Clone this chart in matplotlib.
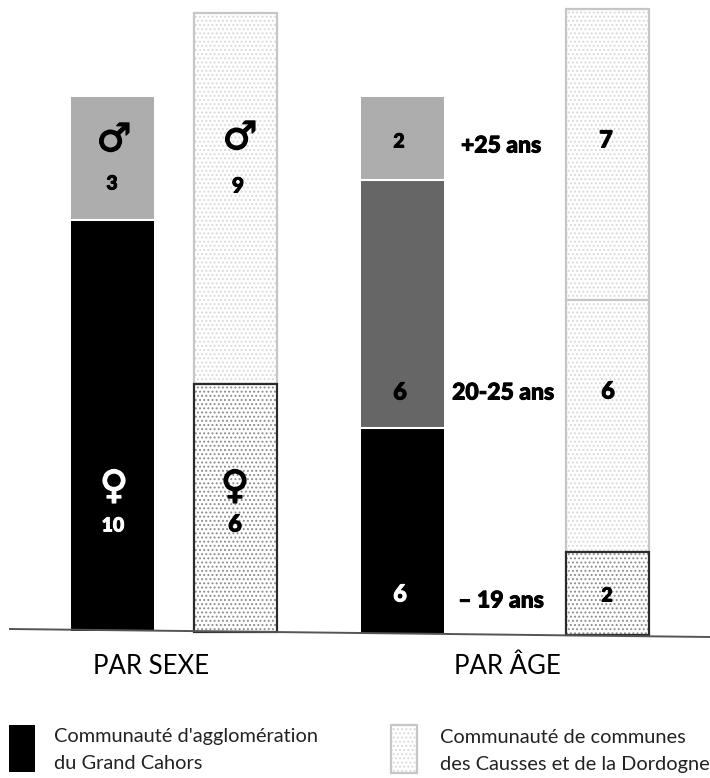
import matplotlib
matplotlib.use("Agg")
import matplotlib.pyplot as plt
import matplotlib.patheffects as pe
from matplotlib.patches import Rectangle

# heights as drawn, in persons (scale)
sexe_cahors = [9.95, 2.97]
sexe_causses = [6, 9]
age_cahors = [5, 6, 2]      # lowest block is drawn 5 units tall but labelled 6
age_causses = [2, 6.1, 7.05]
lab_sexe_cahors = ["10", "3"]
lab_sexe_causses = ["6", "9"]
lab_age_cahors = ["6", "6", "2"]
lab_age_causses = ["2", "6", "7"]
age_labels = ["– 19 ans", "20-25 ans", "+25 ans"]
groups = ["PAR SEXE", "PAR ÂGE"]
legend_labels = ["Communauté d'agglomération\ndu Grand Cahors",
                 "Communauté de communes\ndes Causses et de la Dordogne"]

BLACK, DARK, MID = "#000000", "#666666", "#adadad"
U = 41.3

fig = plt.figure(figsize=(7.10, 7.78), dpi=100)
ax = fig.add_axes([0, 0, 1, 1])
ax.set_xlim(0, 710)
ax.set_ylim(778, 0)
ax.axis("off")
plt.rcParams["hatch.linewidth"] = 0.9
F = ["Lato", "DejaVu Sans"]

def hatched(x, y, w, h, dark):
    hc = "#8c8c8c" if dark else "#d8d8d8"
    ec = "#2a2a2a" if dark else "#c6c6c6"
    ax.add_patch(Rectangle((x, y), w, h, fc="white", ec=hc, lw=0, hatch="...."))
    ax.add_patch(Rectangle((x, y), w, h, fc="none", ec=ec, lw=1.6))

def stack_solid(x, base, vals, cols):
    y = base
    for v, c in zip(vals, cols):
        h = v * U
        ax.bar(x, -h, width=83, bottom=y, color=c, align="edge", lw=0)
        y -= h
        if c != cols[-1]:
            ax.plot([x, x + 83], [y, y], color="white", lw=1.5)

def stack_hatch(x, base, vals, darks):
    y = base
    tops = []
    for v in vals:
        y -= v * U
        tops.append(y)
    for v, d, t in reversed(list(zip(vals, darks, tops))):
        hatched(x, t, 83, v * U, d)

stack_solid(71, 631, sexe_cahors, [BLACK, MID])
stack_hatch(194, 632, sexe_causses, [True, False])
stack_solid(361, 634, age_cahors, [BLACK, DARK, MID])
stack_hatch(566, 635, age_causses, [True, False, False])

# slanted ground line
ax.plot([10, 710], [629, 637], color="#555555", lw=1.4, zorder=5)

def num(x, y, s, c="black", size=15):
    ax.text(x, y, s, ha="center", va="center", family=F, weight="black", size=size, color=c,
            path_effects=[pe.withStroke(linewidth=0.7, foreground=c)])

num(113, 526, lab_sexe_cahors[0], "white", 14)
num(112, 184, lab_sexe_cahors[1], "black", 14)
num(235, 524, lab_sexe_causses[0], "black", 17)
num(238, 186, lab_sexe_causses[1], "black", 15)
num(400, 594, lab_age_cahors[0], "white", 17)
num(400, 392, lab_age_cahors[1], "black", 17)
num(399, 142, lab_age_cahors[2], "black", 14)
num(607, 596, lab_age_causses[0], "black", 14)
num(608, 391, lab_age_causses[1], "black", 17)
num(606, 140, lab_age_causses[2], "black", 17)

for x, y, s in zip([501, 503, 501], [601, 393, 146], age_labels):
    ax.text(x, y, s, ha="center", va="center", family=F, weight="black", size=16.5,
            path_effects=[pe.withStroke(linewidth=0.7, foreground="black")])

def sym(x, y, s, c):
    ax.text(x, y, s, ha="center", va="center", family="DejaVu Sans", weight="bold", size=28, color=c,
            path_effects=[pe.withStroke(linewidth=1.0, foreground=c)])

sym(114, 140, "♂", "black")
sym(240, 138, "♂", "black")
sym(114, 487, "♀", "white")
sym(235, 487, "♀", "black")

ax.text(151, 666, groups[0], ha="center", va="center", family=F, size=18.5)
ax.text(507, 666, groups[1], ha="center", va="center", family=F, size=18.5)

ax.add_patch(Rectangle((9, 725), 26, 47, fc="black", ec="none"))
hatched(391, 725, 26, 48, False)
ax.text(54, 750, legend_labels[0], ha="left", va="center", family=F, size=14.4, color="#222222", linespacing=1.65)
ax.text(440, 751, legend_labels[1], ha="left", va="center", family=F, size=14.4, color="#222222", linespacing=1.65)

fig.savefig("out.png", dpi=100)
